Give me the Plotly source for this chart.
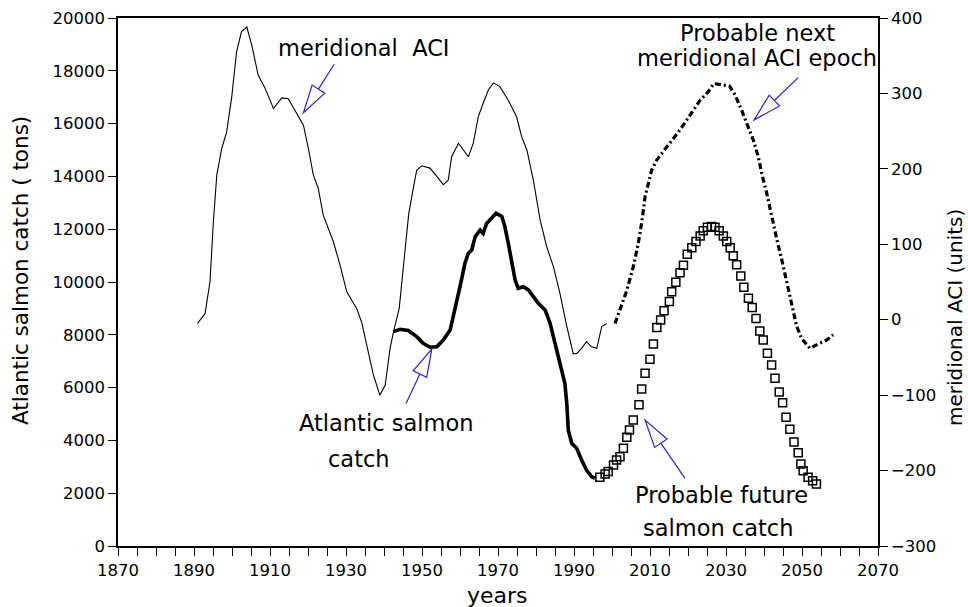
import math
import plotly.graph_objects as go

# ---- meridional ACI, observed (right axis, units) ----
aci_years = [1890.9, 1892.9, 1894.2, 1895.1, 1896.0, 1897.3, 1898.6, 1899.9, 1901.2, 1902.5,
             1903.9, 1905.2, 1906.9, 1908.7, 1910.9, 1912.2, 1913.1, 1914.8, 1916.6, 1918.8,
             1920.1, 1921.4, 1922.7, 1924.0, 1926.7, 1928.4, 1930.2, 1932.8, 1934.1, 1935.4,
             1937.2, 1938.9, 1940.3, 1941.6, 1942.5, 1944.0, 1945.3, 1946.5, 1947.7, 1948.6,
             1949.9, 1952.1, 1953.9, 1955.6, 1956.9, 1957.8, 1959.6, 1960.9, 1962.2, 1963.5,
             1964.8, 1966.1, 1967.5, 1968.8, 1970.5, 1972.7, 1974.9, 1976.2, 1977.6, 1979.3,
             1981.1, 1982.8, 1984.6, 1986.3, 1988.1, 1989.8, 1990.7, 1992.0, 1993.3, 1994.6,
             1996.0, 1997.3, 1998.6]
aci_values = [-5, 8, 50, 130, 192, 227, 249, 294, 355, 382,
              388, 364, 324, 307, 280, 289, 294, 293, 278, 258,
              227, 192, 174, 139, 103, 73, 37, 15, -3, -34,
              -73, -100, -87, -38, -16, 15, 80, 140, 174, 198,
              204, 201, 190, 179, 185, 216, 234, 225, 216, 234,
              269, 287, 305, 314, 309, 291, 269, 243, 225, 185,
              132, 97, 70, 35, -9, -45, -45, -38, -29, -36,
              -38, -9, -5]

# ---- probable next meridional ACI epoch ----
aci_proj_years = [2000.8, 2002.1, 2003.9, 2005.6, 2006.9, 2007.8, 2008.7, 2009.6, 2010.4, 2011.8,
                  2013.5, 2015.3, 2017.5, 2019.7, 2021.4, 2023.2, 2025.3, 2026.8, 2030.9, 2032.4,
                  2034.1, 2035.9, 2037.2, 2038.5, 2039.4, 2040.7, 2042.0, 2043.4, 2044.7, 2046.0,
                  2047.3, 2048.6, 2049.9, 2052.1, 2054.7, 2056.5, 2058.2]
aci_proj_values = [-5, 13, 39, 70, 101, 128, 163, 181, 198, 212,
                   223, 234, 249, 265, 278, 291, 302, 313, 310, 298,
                   278, 256, 238, 216, 194, 168, 137, 106, 79, 48,
                   22, -9, -25, -38, -31, -27, -20]

# ---- Atlantic salmon catch, observed (left axis, tons) ----
catch_years = [1942.5, 1944.2, 1946.4, 1948.6, 1950.3, 1952.1, 1953.9, 1955.6, 1957.4, 1958.7,
               1960.0, 1961.3, 1962.2, 1963.1, 1964.0, 1965.3, 1966.1, 1967.0, 1968.3, 1969.5,
               1971.0, 1971.8, 1972.7, 1973.6, 1974.5, 1975.3, 1976.7, 1978.0, 1979.3, 1980.6,
               1982.4, 1983.7, 1985.0, 1986.3, 1987.6, 1988.1, 1988.5, 1989.4, 1990.7, 1992.0,
               1993.3, 1994.6, 1995.5]
catch_values = [8120, 8210, 8160, 7930, 7680, 7530, 7550, 7800, 8180, 8940,
                9820, 10710, 11090, 11210, 11720, 11970, 11840, 12220, 12410, 12600,
                12480, 12100, 11470, 10710, 10080, 9760, 9820, 9700, 9440, 9190,
                8940, 8440, 7680, 6920, 6160, 5400, 4390, 3890, 3700, 3260,
                2880, 2630, 2560]

# ---- probable future salmon catch ----
future_years = [1996.8, 1998.2, 1999.0, 2000.4, 2001.2, 2002.1, 2003.0, 2003.9, 2004.6, 2005.6,
                2007.1, 2007.8, 2008.7, 2010.0, 2010.9, 2011.8, 2012.8, 2013.7, 2015.1, 2015.7,
                2016.8, 2017.9, 2018.8, 2019.8, 2021.0, 2022.1, 2023.2, 2024.0, 2025.1, 2026.2,
                2027.1, 2028.2, 2029.3, 2030.2, 2031.1, 2031.9, 2032.8, 2033.9, 2034.7, 2035.9,
                2036.9, 2037.9, 2038.9, 2039.8, 2040.9, 2042.0, 2042.9, 2044.0, 2044.9, 2045.8,
                2046.8, 2047.9, 2049.0, 2049.7, 2050.3, 2051.6, 2052.8, 2053.8]
future_values = [2600, 2730, 2820, 3070, 3260, 3380, 3700, 4120, 4390, 4770,
                 5350, 5950, 6540, 7070, 7650, 8280, 8560, 8910, 9260, 9630,
                 9990, 10350, 10630, 11050, 11300, 11530, 11740, 11940, 12070, 12100,
                 12070, 11940, 11740, 11530, 11300, 10990, 10650, 10230, 9800, 9380,
                 9030, 8620, 8140, 7800, 7300, 6860, 6350, 5830, 5430, 4880,
                 4420, 3940, 3530, 3110, 2850, 2600, 2470, 2350]

# ---- annotation texts and their placement (year, tons) ----
label_texts = ["meridional\u00a0 ACI", "Probable next", "meridional ACI epoch",
               "Atlantic salmon", "catch", "Probable future", "salmon catch"]
label_pos = [(1934.7, 18860, "center"), (2038.2, 19420, "center"), (2038.2, 18500, "center"),
             (1964.0, 4660, "right"), (1942.0, 3280, "right"),
             (2028.7, 1930, "center"), (2027.9, 680, "center")]

# arrows: (tail year, tail tons, tip year, tip tons)
arrows = [(1926.9, 18250, 1918.8, 16410),
          (1945.8, 5400, 1952.6, 7470),
          (2049.0, 17740, 2037.4, 16140),
          (2019.2, 2560, 2008.7, 4770)]

# axis titles: text, centre in page pixels, rotation
axis_titles = [("years", 497, 595, 0, 22),
               ("Atlantic salmon catch ( tons)", 20, 271, -90, 21.5),
               ("meridional ACI (units)", 955, 318, -90, 20)]

W, H = 968, 607
MARGIN = dict(l=118, r=90, t=18, b=61)
X_RANGE = [1870, 2070]
Y_RANGE = [0, 20000]
Y2_RANGE = [-300, 400]
PW = W - MARGIN["l"] - MARGIN["r"]
PH = H - MARGIN["t"] - MARGIN["b"]
FONT = "DejaVu Sans"
ARROW_COLOR = "#2626c8"


def to_px(x, y):
    return ((x - X_RANGE[0]) / (X_RANGE[1] - X_RANGE[0]) * PW,
            (y - Y_RANGE[0]) / (Y_RANGE[1] - Y_RANGE[0]) * PH)


def to_data(px, py):
    return (X_RANGE[0] + px / PW * (X_RANGE[1] - X_RANGE[0]),
            Y_RANGE[0] + py / PH * (Y_RANGE[1] - Y_RANGE[0]))


fig = go.Figure()

fig.add_trace(go.Scatter(x=aci_years, y=aci_values, yaxis="y2", mode="lines",
                         line=dict(color="black", width=1.1), hoverinfo="skip"))
fig.add_trace(go.Scatter(x=aci_proj_years, y=aci_proj_values, yaxis="y2", mode="lines",
                         line=dict(color="black", width=3.2, dash="6px,3px,2px,3px"),
                         hoverinfo="skip"))
fig.add_trace(go.Scatter(x=catch_years, y=catch_values, mode="lines",
                         line=dict(color="black", width=3.6), hoverinfo="skip"))
fig.add_trace(go.Scatter(x=future_years, y=future_values, mode="markers",
                         marker=dict(symbol="square-open", size=8, color="black",
                                     line=dict(color="black", width=1.5)),
                         hoverinfo="skip"))

# open-headed arrows
shapes = []
HEAD_LEN, HEAD_HALF = 28, 7.5
for tx, ty, hx, hy in arrows:
    t = to_px(tx, ty)
    h = to_px(hx, hy)
    dx, dy = h[0] - t[0], h[1] - t[1]
    L = math.hypot(dx, dy)
    ux, uy = dx / L, dy / L
    bx, by = h[0] - HEAD_LEN * ux, h[1] - HEAD_LEN * uy
    c1 = to_data(bx - HEAD_HALF * uy, by + HEAD_HALF * ux)
    c2 = to_data(bx + HEAD_HALF * uy, by - HEAD_HALF * ux)
    base = to_data(bx, by)
    shapes.append(dict(type="line", xref="x", yref="y", x0=tx, y0=ty, x1=base[0], y1=base[1],
                       line=dict(color=ARROW_COLOR, width=1.2)))
    path = "M {:.3f},{:.3f} L {:.3f},{:.3f} L {:.3f},{:.3f} Z".format(
        hx, hy, c1[0], c1[1], c2[0], c2[1])
    shapes.append(dict(type="path", xref="x", yref="y", path=path,
                       line=dict(color=ARROW_COLOR, width=1.2)))

annotations = []
for text, (ax_, ay_, anchor) in zip(label_texts, label_pos):
    annotations.append(dict(x=ax_, y=ay_, xref="x", yref="y", text=text, showarrow=False,
                            xanchor=anchor, yanchor="middle",
                            font=dict(family=FONT, size=22.5, color="black")))

for text, px, py, angle, size in axis_titles:
    annotations.append(dict(x=(px - MARGIN["l"]) / PW, y=1 - (py - MARGIN["t"]) / PH,
                            xref="paper", yref="paper", text=text, showarrow=False,
                            textangle=angle, xanchor="center", yanchor="middle",
                            font=dict(family=FONT, size=size, color="black")))

axis_common = dict(showgrid=False, zeroline=False, showline=True, linecolor="black",
                   linewidth=1.5, ticks="outside", ticklen=8, tickwidth=1.2,
                   tickcolor="black", tickformat="d", automargin=False,
                   tickfont=dict(family=FONT, size=16.5, color="black"))

fig.update_layout(
    width=W, height=H,
    margin=MARGIN,
    paper_bgcolor="white", plot_bgcolor="white",
    showlegend=False,
    shapes=shapes,
    annotations=annotations,
    xaxis=dict(range=X_RANGE, tick0=1870, dtick=20, mirror=True,
               minor=dict(tick0=1870, dtick=5, ticks="outside", ticklen=8,
                          tickwidth=1.2, tickcolor="black"),
               **axis_common),
    yaxis=dict(range=Y_RANGE, tick0=0, dtick=2000, **axis_common),
    yaxis2=dict(range=Y2_RANGE, tick0=-300, dtick=100, overlaying="y", side="right",
                **axis_common),
)

fig.write_html("out.html")
